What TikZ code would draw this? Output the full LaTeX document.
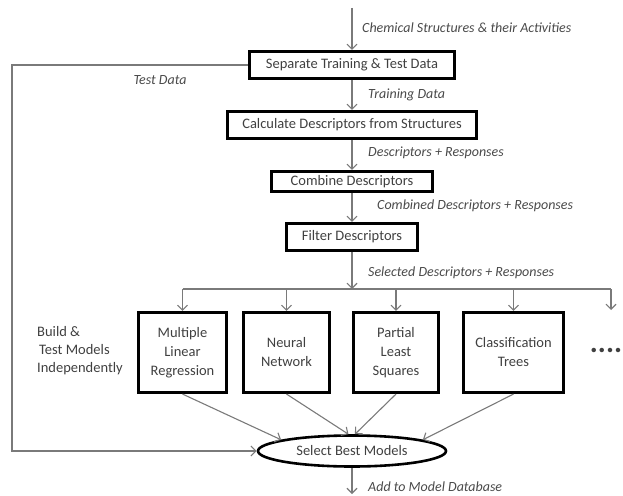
\documentclass[tikz,border=0pt]{standalone}
\usepackage{fontspec}
\setmainfont{Carlito}
\usetikzlibrary{arrows.meta,shapes.geometric}
\definecolor{boxtext}{HTML}{404040}
\definecolor{lbl}{HTML}{4A4A4A}
\definecolor{conncol}{HTML}{7A7A7A}
\begin{document}
\begin{tikzpicture}[x=1pt,y=-1pt,
  >={Straight Barb[length=5pt,width=10pt]},
  box/.style={draw=black,line width=2.6pt,minimum height=27.5pt,inner sep=0pt,text=boxtext,font=\fontsize{14.5}{19}\selectfont,align=center},
  mbox/.style={box,minimum height=80.5pt},
  lab/.style={text=lbl,font=\fontsize{14}{17}\selectfont\itshape,inner sep=0pt,anchor=west},
  conn/.style={draw=conncol,line width=1.1pt,->},
  plain/.style={draw=conncol,line width=1.1pt}]
\useasboundingbox (0,0) rectangle (623,495);

% process boxes
\node[box,minimum width=205.5pt] (b1) at (352,65) {Separate Training \& Test Data};
\node[box,minimum width=248.5pt] (b2) at (352,125) {Calculate Descriptors from Structures};
\node[box,minimum width=160.5pt,minimum height=20.5pt] (b3) at (352,181.5) {Combine Descriptors};
\node[box,minimum width=131.5pt] (b4) at (352,237) {Filter Descriptors};

\node[mbox,minimum width=88.5pt] (mlr) at (182.5,352.5) {Multiple\\Linear\\Regression};
\node[mbox,minimum width=86.5pt] (nn) at (286.5,352.5) {Neural\\Network};
\node[mbox,minimum width=85.5pt] (pls) at (396,352.5) {Partial\\Least\\Squares};
\node[mbox,minimum width=100.5pt] (ct) at (513.5,352.5) {Classification\\Trees};

\node[ellipse,draw=black,line width=2.6pt,minimum width=188pt,minimum height=31pt,inner sep=0pt,text=boxtext,font=\fontsize{14.5}{17}\selectfont] (ell) at (352,451) {Select Best Models};

\node[text=boxtext,font=\fontsize{30}{30}\selectfont\bfseries,inner sep=0pt] (dots) at (606,350) {....};

\node[text=boxtext,font=\fontsize{14.5}{18}\selectfont,align=left,inner sep=0pt,anchor=west] (build) at (37,351) {Build \&\\\hspace*{2pt}Test Models\\Independently};

% coordinates
\coordinate (src) at (352,8);
\coordinate (br) at (352,289);
\coordinate (more) at (611,310);
\coordinate (lft) at (12,65);
\coordinate (snk) at (352,494);

% connectors
\draw[conn] (src) -- (b1.north);
\draw[conn] (b1.south) -- (b2.north);
\draw[conn] (b2.south) -- (b3.north);
\draw[conn] (b3.south) -- (b4.north);
\draw[conn] (b4.south) -- (br);
\draw[plain] (mlr.north |- br) -- (more |- br);
\foreach \n in {mlr,nn,pls,ct} \draw[conn] (\n.north |- br) -- (\n.north);
\draw[conn] (more |- br) -- (more);

\draw[conn] (mlr.south) -- (ell.171);
\draw[conn] (nn.south) -- (ell.102);
\draw[conn] (pls.south) -- (ell.80);
\draw[conn] (ct.south) -- (ell.9);

\draw[conn] (b1.west) -- (lft) |- (ell.west);
\draw[conn] (ell.south) -- (snk);

% labels
\node[lab] (l1) at (362,28) {Chemical Structures \& their Activities};
\node[lab,anchor=center] (l2) at (160,80) {Test Data};
\node[lab] (l3) at (368,95) {Training Data};
\node[lab] (l4) at (368,153) {Descriptors + Responses};
\node[lab] (l5) at (377,206) {Combined Descriptors + Responses};
\node[lab] (l6) at (368,273) {Selected Descriptors + Responses};
\node[lab] (l7) at (368,486.5) {Add to Model Database};
\end{tikzpicture}
\end{document}
